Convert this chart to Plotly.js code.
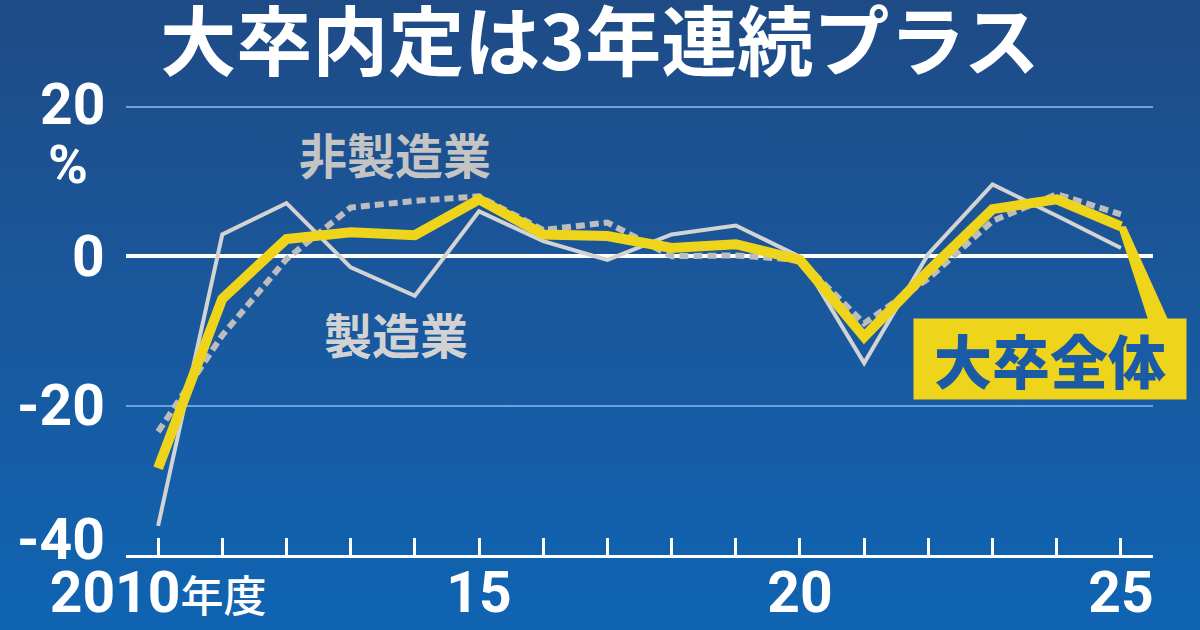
<!DOCTYPE html>
<html>
<head>
<meta charset="utf-8">
<script src="https://cdn.plot.ly/plotly-3.0.1.min.js"></script>
<style>
html,body{margin:0;padding:0;}
body{width:1200px;height:630px;overflow:hidden;background:linear-gradient(180deg,#1e4b86 0%,#1a579b 45%,#0f64b2 100%);}
#chart{width:1200px;height:630px;}
</style>
</head>
<body>
<div id="chart"></div>
<script>
// ---- data ----
const years = [2010,2011,2012,2013,2014,2015,2016,2017,2018,2019,2020,2021,2022,2023,2024,2025];
const manufacturing    = [-36.1, 2.9, 7.1, -1.5, -5.3, 6.0, 2.0, -0.5, 2.9, 4.1, -0.1, -14.3, 0.3, 9.6, 5.4, 1.1];
const nonManufacturing = [-23.5, -10.6, -0.4, 6.5, 7.4, 8.0, 3.5, 4.5, 0.0, 0.1, -0.5, -9.0, -3.0, 4.7, 8.3, 5.6];
const allGraduates     = [-28.4, -5.7, 2.3, 3.2, 2.8, 7.6, 2.9, 2.7, 1.1, 1.6, -0.5, -10.8, -2.0, 6.3, 7.6, 4.0];

const xLabelYears = [2010, 2015, 2020, 2025];
const xLabelText  = ['2010年度', '15', '20', '25'];
const yTickVals   = [20, 0, -20, -40];
const yTickText   = ['20', '0', '-20', '-40'];
const yUnit = '%';

const titleText = '大卒内定は3年連続プラス';
const labelManu = '製造業';
const labelNonManu = '非製造業';
const labelAll = '大卒全体';

// ---- styles ----
const NUM_FONT = 'Roboto, "Liberation Sans", sans-serif';
const JP_FONT = '"Noto Sans CJK JP", sans-serif';
const YELLOW = '#efd41c';
const X_RANGE = [2009.5, 2025.5];
const Y_RANGE = [-40, 20.5];

function fmtX(t){
  return t.replace(/年度/, '<span style="font-family:Noto Sans CJK JP;font-size:43px;font-weight:500">年度</span>');
}
const tickText = years.map(y => {
  const i = xLabelYears.indexOf(y);
  return i >= 0 ? fmtX(xLabelText[i]) : '';
});

const traces = [
  {x: years, y: manufacturing, mode: 'lines', line: {color: '#d3d3d3', width: 4}, hoverinfo: 'skip'},
  {x: years, y: nonManufacturing, mode: 'lines', line: {color: '#bdbdbd', width: 6, dash: '9px,5px'}, hoverinfo: 'skip'},
  {x: years, y: allGraduates, mode: 'lines', line: {color: YELLOW, width: 10}, hoverinfo: 'skip'}
];

const annotations = [];
yTickVals.forEach((v, i) => {
  annotations.push({
    xref: 'paper', yref: 'y', x: 0, y: v, xanchor: 'right', yanchor: 'middle',
    xshift: -19, yshift: (v === -40 ? 16 : (v === 20 ? 2 : 0)),
    text: yTickText[i], showarrow: false,
    font: {family: NUM_FONT, size: 57, color: '#ffffff', weight: 'bold'}
  });
});
annotations.push({
  xref: 'paper', yref: 'y', x: 0, y: 20, xanchor: 'center', yanchor: 'middle',
  xshift: -58, yshift: -58, text: yUnit, showarrow: false,
  font: {family: NUM_FONT, size: 54, color: '#ffffff', weight: 'bold'}
});
annotations.push({
  xref: 'x', yref: 'y', x: 2013.69, y: 13.8, xanchor: 'center', yanchor: 'middle',
  text: labelNonManu, showarrow: false,
  font: {family: JP_FONT, size: 48, color: '#c4c4c4', weight: 'bold'}
});
annotations.push({
  xref: 'x', yref: 'y', x: 2013.7, y: -10.3, xanchor: 'center', yanchor: 'middle',
  text: labelManu, showarrow: false,
  font: {family: JP_FONT, size: 48, color: '#d2d2d2', weight: 'bold'}
});
annotations.push({
  xref: 'x', yref: 'y', x: 2023.9, y: -13.7, xanchor: 'center', yanchor: 'middle',
  text: labelAll, showarrow: false, width: 272, height: 80, borderpad: 0,
  bgcolor: YELLOW,
  font: {family: JP_FONT, size: 58, color: '#1b5ba6', weight: 900}
});

// pointer from the last point of the yellow line down to the label box
const last = years.length - 1;
const px = (years[last] - X_RANGE[0]) / (X_RANGE[1] - X_RANGE[0]);
const py = (allGraduates[last] - Y_RANGE[0]) / (Y_RANGE[1] - Y_RANGE[0]);
const shapes = [{
  type: 'path', xref: 'paper', yref: 'paper',
  xsizemode: 'pixel', ysizemode: 'pixel',
  xanchor: px, yanchor: py,
  path: 'M -3 0 L 27 -93 L 47 -93 L 5 0 Z',
  fillcolor: YELLOW, line: {width: 0}, layer: 'above'
}];

const layout = {
  width: 1200, height: 630,
  paper_bgcolor: 'rgba(0,0,0,0)', plot_bgcolor: 'rgba(0,0,0,0)',
  margin: {l: 126, r: 47, t: 103, b: 75},
  showlegend: false,
  title: {
    text: titleText, x: 0.5, xanchor: 'center', xref: 'container',
    y: 1 - 43/630, yanchor: 'middle', yref: 'container',
    font: {family: JP_FONT, size: 76, color: '#ffffff', weight: 'bold'}
  },
  xaxis: {
    range: X_RANGE, tickvals: years, ticktext: tickText,
    ticks: 'inside', ticklen: 17, tickwidth: 3, tickcolor: '#ffffff',
    showline: true, linecolor: '#ffffff', linewidth: 3,
    showgrid: false, zeroline: false, fixedrange: true,
    tickfont: {family: NUM_FONT, size: 57, color: '#ffffff', weight: 'bold'},
    ticklabelstandoff: -14
  },
  yaxis: {
    range: Y_RANGE, tickvals: yTickVals, showticklabels: false,
    showgrid: true, gridcolor: '#6fa2da', gridwidth: 2,
    zeroline: true, zerolinecolor: '#ffffff', zerolinewidth: 4,
    ticks: '', showline: false, fixedrange: true
  },
  annotations: annotations,
  shapes: shapes
};

Plotly.newPlot('chart', traces, layout, {displayModeBar: false, staticPlot: true});
</script>
</body>
</html>
